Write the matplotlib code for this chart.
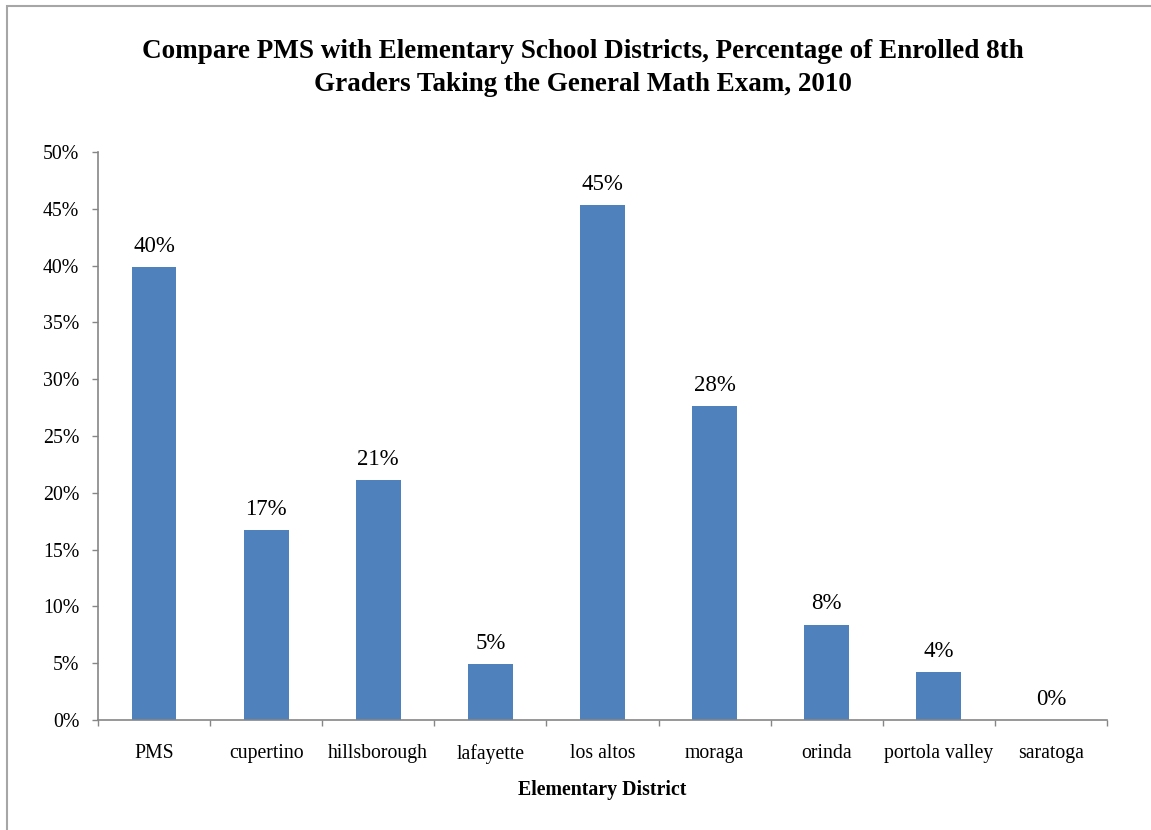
import matplotlib
matplotlib.use("Agg")
import matplotlib.pyplot as plt
from matplotlib.patches import Rectangle

categories = ["PMS", "cupertino", "hillsborough", "lafayette", "los altos",
              "moraga", "orinda", "portola valley", "saratoga"]
values = [39.9, 16.7, 21.1, 4.9, 45.3, 27.6, 8.4, 4.2, 0.0]
labels = ["40%", "17%", "21%", "5%", "45%", "28%", "8%", "4%", "0%"]
yticks = [0, 5, 10, 15, 20, 25, 30, 35, 40, 45, 50]

plt.rcParams['font.family'] = ['Liberation Serif', 'DejaVu Serif']

fig = plt.figure(figsize=(11.51, 8.30), dpi=100)
fig.patches.append(Rectangle((7/1151, -0.1), 1.2, 1 - 6/830 + 0.1,
                             transform=fig.transFigure, fill=False,
                             edgecolor='#A6A6A6', linewidth=1.5))
ax = fig.add_axes([98/1151, 1 - 720/830, (1107 - 98)/1151, (720 - 152)/830])

x = list(range(len(categories)))
ax.bar(x, values, width=0.4, color='#4F81BD')
for xi, v, lab in zip(x, values, labels):
    ax.text(xi, v + 0.9, lab, ha='center', va='bottom', fontsize=16.5)

ax.set_xlim(-0.5, len(categories) - 0.5)
ax.set_ylim(0, 50)
ax.set_yticks(yticks)
ax.set_yticklabels([f"{t}%" for t in yticks], fontsize=14.3)
ax.set_xticks(x)
ax.set_xticklabels(categories, fontsize=14.2)
ax.set_xticks([i - 0.5 for i in range(len(categories) + 1)], minor=True)
ax.tick_params(axis='x', which='major', length=0, pad=17)
ax.tick_params(axis='x', which='minor', length=4.5, color='#868686', width=1)
ax.tick_params(axis='y', length=4.5, color='#868686', width=1, pad=9)
for s in ['top', 'right']:
    ax.spines[s].set_visible(False)
for s in ['left', 'bottom']:
    ax.spines[s].set_color('#868686')
    ax.spines[s].set_linewidth(1.2)

ax.set_xlabel("Elementary District", fontsize=14.3, fontweight='bold', labelpad=12)

fig.text(583/1151, 1 - 68/830,
         "Compare PMS with Elementary School Districts, Percentage of Enrolled 8th\nGraders Taking the General Math Exam, 2010",
         ha='center', va='center', fontsize=19.5, fontweight='bold', linespacing=1.42)

fig.savefig("out.png", dpi=100)
